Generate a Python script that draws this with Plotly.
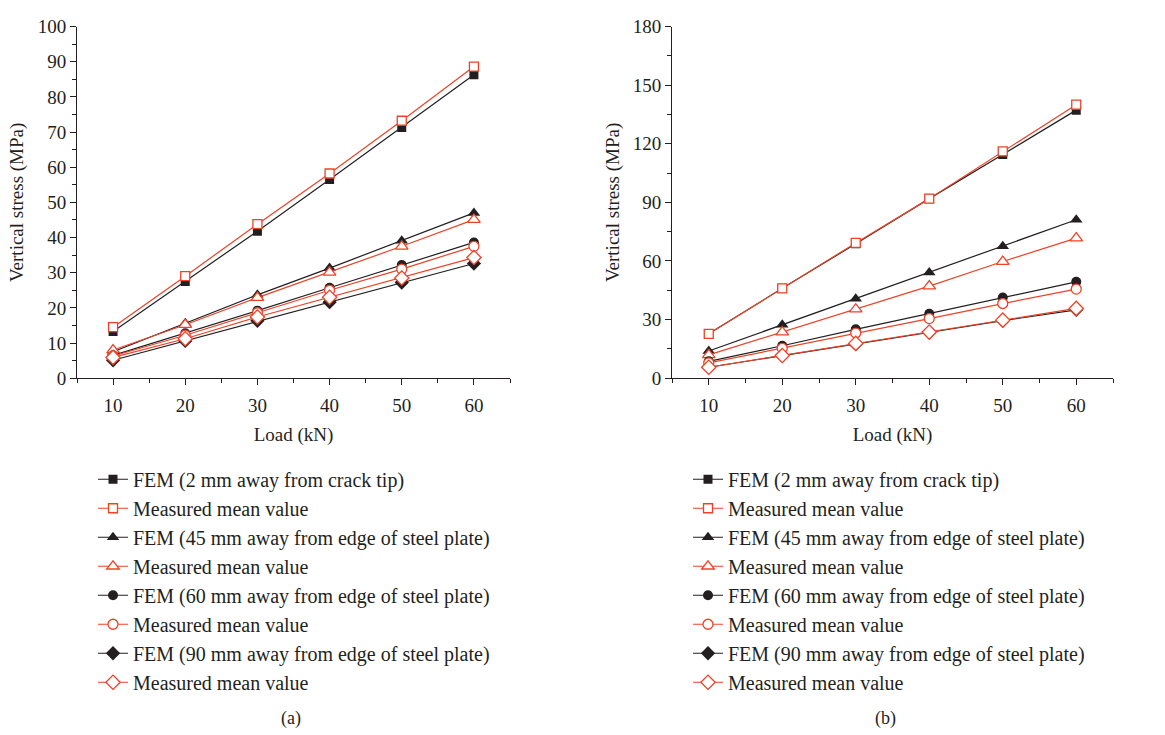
import plotly.graph_objects as go

# Load steps (kN)
load = [10, 20, 30, 40, 50, 60]

# (a) vertical stress (MPa)
a_fem_tip = [13.3, 27.5, 41.8, 56.5, 71.3, 86.3]
a_meas_tip = [14.5, 29.0, 43.8, 58.2, 73.2, 88.6]
a_fem_45 = [7.5, 15.6, 23.7, 31.3, 39.1, 47.0]
a_meas_45 = [8.0, 15.2, 22.9, 30.1, 37.5, 45.1]
a_fem_60 = [6.5, 12.8, 19.2, 25.7, 32.2, 38.6]
a_meas_60 = [6.3, 12.2, 18.6, 25.0, 31.0, 37.5]
a_fem_90 = [5.1, 10.6, 16.3, 21.6, 27.2, 32.6]
a_meas_90 = [5.9, 11.2, 17.4, 23.0, 28.5, 34.3]

# (b) vertical stress (MPa)
b_fem_tip = [22.7, 46.0, 68.8, 91.9, 114.5, 137.2]
b_meas_tip = [22.7, 46.0, 69.2, 91.9, 116.1, 140.0]
b_fem_45 = [13.9, 27.4, 40.6, 54.1, 67.5, 81.1]
b_meas_45 = [11.9, 23.6, 35.3, 47.1, 59.7, 71.7]
b_fem_60 = [8.6, 16.6, 25.0, 33.0, 41.3, 49.3]
b_meas_60 = [7.8, 15.3, 23.1, 30.5, 38.2, 45.6]
b_fem_90 = [5.6, 11.6, 17.4, 23.4, 29.4, 35.0]
b_meas_90 = [5.6, 11.6, 17.8, 23.6, 29.7, 35.7]

names = [
    "FEM (2 mm away from crack tip)",
    "Measured mean value",
    "FEM (45 mm away from edge of steel plate)",
    "Measured mean value",
    "FEM (60 mm away from edge of steel plate)",
    "Measured mean value",
    "FEM (90 mm away from edge of steel plate)",
    "Measured mean value",
]

BLACK = "#231f20"
RED = "#ee4227"
FONT = "Liberation Serif"
symbols = ["square", "triangle-up", "circle", "diamond"]
sizes = [9, 11, 10, 11]

fig = go.Figure()


def add_panel(series, xaxis, yaxis, legend):
    for i, ys in enumerate(series):
        k = i // 2
        fem = i % 2 == 0
        color = BLACK if fem else RED
        fig.add_trace(go.Scatter(
            x=load, y=ys, mode="lines+markers", name=names[i],
            xaxis=xaxis, yaxis=yaxis, legend=legend,
            line=dict(color=color, width=1.2),
            marker=dict(symbol=symbols[k], size=sizes[k],
                        color=BLACK if fem else "white",
                        line=dict(color=color, width=0 if fem else 1.3)),
        ))


add_panel([a_fem_tip, a_meas_tip, a_fem_45, a_meas_45,
           a_fem_60, a_meas_60, a_fem_90, a_meas_90], "x", "y", "legend")
add_panel([b_fem_tip, b_meas_tip, b_fem_45, b_meas_45,
           b_fem_60, b_meas_60, b_fem_90, b_meas_90], "x2", "y2", "legend2")

W, H = 1165, 735
ydom = [1 - 379 / H, 1 - 17 / H]
TICK_FONT = dict(family=FONT, size=19, color=BLACK)
TITLE_FONT = dict(family=FONT, size=19, color=BLACK)

axis_common = dict(
    showline=True, linecolor=BLACK, linewidth=1, mirror=False,
    showgrid=False, zeroline=False,
    ticks="outside", ticklen=6, tickwidth=1, tickcolor=BLACK,
    tickfont=TICK_FONT,
    minor=dict(ticks="outside", ticklen=4, tickwidth=1, tickcolor=BLACK),
)

x_common = dict(axis_common, range=[5, 65], tickvals=[10, 20, 30, 40, 50, 60],
                ticklabelstandoff=4,
                title=dict(text="Load (kN)", font=TITLE_FONT, standoff=12))
x_common["minor"] = dict(axis_common["minor"], tickvals=[5, 15, 25, 35, 45, 55, 65])

legend_common = dict(
    font=dict(family=FONT, size=20, color=BLACK),
    bgcolor="rgba(0,0,0,0)", tracegroupgap=0,
    xanchor="left", yanchor="top", itemwidth=30,
)

fig.update_layout(
    width=W, height=H,
    margin=dict(l=0, r=0, t=0, b=0),
    paper_bgcolor="white", plot_bgcolor="white",
    xaxis=dict(x_common, domain=[77 / W, 510 / W], anchor="y"),
    yaxis=dict(axis_common, domain=ydom, anchor="x", range=[0, 100],
               tickvals=list(range(0, 101, 10)),
               minor=dict(axis_common["minor"], dtick=5, tick0=5),
               title=dict(text="Vertical stress (MPa)", font=TITLE_FONT, standoff=9)),
    xaxis2=dict(x_common, domain=[672 / W, 1113 / W], anchor="y2"),
    yaxis2=dict(axis_common, domain=ydom, anchor="x2", range=[0, 180],
                tickvals=list(range(0, 181, 30)),
                minor=dict(axis_common["minor"], dtick=15, tick0=15),
                title=dict(text="Vertical stress (MPa)", font=TITLE_FONT, standoff=8)),
    legend=dict(legend_common, x=93 / W, y=1 - 463 / H),
    legend2=dict(legend_common, x=688 / W, y=1 - 463 / H),
    annotations=[
        dict(text="(a)", x=291 / W, y=1 - 729 / H, xref="paper", yref="paper",
             xanchor="center", yanchor="middle", showarrow=False,
             font=dict(family=FONT, size=18, color=BLACK)),
        dict(text="(b)", x=885 / W, y=1 - 729 / H, xref="paper", yref="paper",
             xanchor="center", yanchor="middle", showarrow=False,
             font=dict(family=FONT, size=18, color=BLACK)),
    ],
)

fig.write_html("out.html")
